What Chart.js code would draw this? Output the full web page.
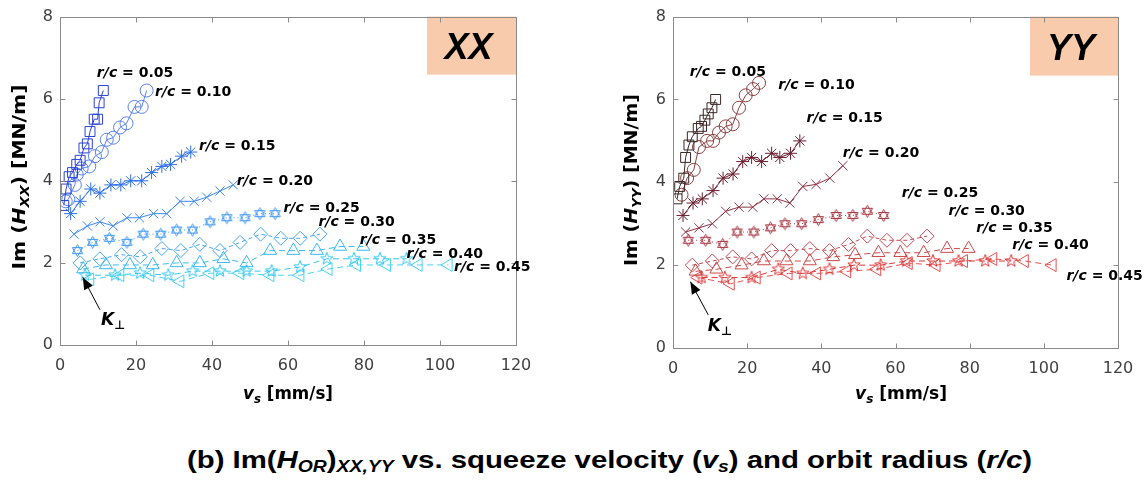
<!DOCTYPE html>
<html>
<head>
<meta charset="utf-8">
<script src="https://cdn.jsdelivr.net/npm/chart.js@4/dist/chart.umd.min.js"></script>
<style>
  html, body { margin: 0; padding: 0; background: #fff; }
  #page { position: relative; width: 1146px; height: 480px; overflow: hidden; }
  .panel { position: absolute; top: 0; }
  #title {
    position: absolute; left: 187px; top: 448px; white-space: nowrap;
    font: bold 24px "Liberation Sans Narrow", "Liberation Sans", Arial, sans-serif;
    line-height: 24px; color: #000; transform-origin: 0 0;
  }
  #title sub { font-size: 0.66em; vertical-align: -0.25em; line-height: 0; }
</style>
</head>
<body>
<div id="page">
  <div class="panel" style="left:0"><canvas id="chartXX" width="560" height="430"></canvas></div>
  <div class="panel" style="left:600px"><canvas id="chartYY" width="546" height="430"></canvas></div>
  <div id="title">(b) Im(<i>H<sub>OR</sub></i>)<sub><i>XX,YY</i></sub> vs. squeeze velocity (<i>v<sub>s</sub></i>) and orbit radius (<i>r/c</i>)</div>
</div>
<script>
// ---- data: [v_s (mm/s), Im(H) (MN/m)] ----
const RC = ['0.05', '0.10', '0.15', '0.20', '0.25', '0.30', '0.35', '0.40', '0.45'];
const X_TICKS = [0, 20, 40, 60, 80, 100, 120];
const Y_TICKS = [0, 2, 4, 6, 8];

const xx05 = [[1.0,3.4],[1.6,3.8],[2.4,4.1],[3.3,4.2],[4.4,4.4],[5.3,4.5],[6.3,4.8],[7.2,4.9],[7.9,5.2],[9.0,5.5],[9.9,5.5],[10.3,5.9],[11.4,6.2]];
const xx10 = [[1.5,3.5],[2.2,3.55],[3.9,3.9],[4.4,4.15],[5.7,4.3],[7.7,4.35],[9.2,4.6],[11.0,4.7],[12.3,5.0],[14.0,5.05],[15.8,5.3],[17.5,5.4],[19.6,5.8],[21.5,5.8],[22.8,6.2]];
const xx15 = [[2.8,3.2],[5.3,3.5],[8.1,3.8],[10.5,3.7],[13.4,3.9],[16.0,3.9],[18.6,4.0],[21.5,4.0],[24.1,4.2],[26.8,4.35],[29.1,4.4],[32.0,4.6],[34.4,4.7]];
const xx20 = [[3.7,2.7],[7.2,2.9],[10.5,3.0],[14.0,2.9],[17.6,3.1],[20.9,3.1],[24.6,3.2],[28.1,3.2],[31.6,3.5],[35.3,3.5],[38.6,3.6],[42.1,3.75],[45.6,3.9]];
const xx25 = [[4.6,2.3],[8.6,2.5],[13.0,2.6],[17.6,2.5],[21.9,2.7],[26.5,2.7],[30.7,2.8],[34.9,2.8],[39.5,3.0],[43.9,3.1],[48.7,3.1],[52.6,3.2],[56.6,3.2]];
const xx30 = [[5.3,2.0],[10.5,2.1],[16.2,2.2],[21.1,2.15],[26.8,2.35],[31.8,2.3],[36.8,2.45],[42.1,2.3],[47.4,2.5],[52.8,2.7],[58.1,2.6],[63.2,2.6],[68.4,2.7]];
const xx35 = [[6.1,1.85],[12.1,1.95],[18.4,1.95],[24.4,1.95],[30.7,2.0],[36.8,2.0],[43.0,2.1],[49.1,2.0],[55.3,2.3],[61.4,2.3],[67.6,2.3],[73.7,2.4],[79.8,2.4]];
const xx40 = [[6.6,1.7],[14.5,1.7],[21.1,1.75],[28.5,1.7],[34.9,1.8],[42.1,1.8],[49.1,1.8],[55.7,1.8],[63.2,1.9],[70.2,2.1],[77.4,2.1],[84.2,2.1],[91.2,2.1]];
const xx45 = [[7.9,1.6],[15.8,1.7],[23.7,1.7],[31.6,1.55],[39.5,1.75],[47.4,1.75],[55.3,1.7],[63.2,1.7],[70.6,1.85],[78.1,1.95],[86.0,1.95],[94.3,1.95],[102.2,1.95]];

const yy05 = [[1.1,3.6],[1.8,3.9],[2.9,4.1],[3.4,4.6],[4.3,4.9],[5.2,5.1],[6.8,5.3],[7.7,5.35],[8.6,5.5],[9.5,5.65],[10.5,5.8],[11.5,6.0]];
const yy10 = [[2.3,3.7],[3.8,4.1],[5.6,4.3],[7.0,4.85],[9.2,5.0],[10.8,5.0],[12.4,5.2],[14.2,5.35],[16.1,5.4],[17.8,5.8],[19.6,6.1],[21.6,6.25],[23.2,6.4]];
const yy15 = [[2.7,3.2],[5.4,3.5],[7.9,3.6],[10.8,3.8],[13.5,4.1],[16.2,4.2],[18.8,4.5],[21.2,4.6],[23.9,4.5],[26.6,4.7],[28.8,4.6],[31.7,4.7],[34.2,5.0]];
const yy20 = [[3.4,2.8],[7.0,2.9],[10.6,3.0],[14.2,3.3],[17.8,3.4],[21.5,3.4],[24.5,3.6],[28.1,3.6],[31.5,3.5],[35.0,3.9],[38.6,3.95],[42.3,4.1],[45.8,4.4]];
const yy25 = [[4.1,2.6],[8.8,2.6],[13.4,2.5],[17.3,2.8],[21.8,2.8],[26.3,2.9],[30.2,3.0],[34.7,3.0],[39.2,3.1],[44.0,3.2],[48.5,3.2],[52.4,3.3],[56.8,3.2]];
const yy30 = [[5.2,2.0],[10.6,2.1],[16.1,2.2],[21.2,2.15],[26.6,2.35],[31.7,2.35],[36.9,2.4],[42.2,2.35],[47.3,2.5],[52.4,2.7],[57.7,2.6],[63.1,2.6],[68.5,2.7]];
const yy35 = [[6.1,1.85],[11.7,1.9],[18.5,2.0],[24.5,2.1],[30.6,2.1],[36.9,2.1],[43.2,2.2],[49.1,2.25],[55.4,2.3],[61.3,2.3],[67.6,2.3],[73.9,2.4],[79.7,2.4]];
const yy40 = [[7.7,1.7],[14.0,1.7],[21.2,1.7],[28.4,1.9],[35.0,1.8],[42.2,1.9],[48.8,2.0],[56.0,2.0],[62.9,2.1],[70.1,2.1],[77.0,2.1],[84.2,2.1],[91.2,2.1]];
const yy45 = [[6.8,1.7],[15.5,1.55],[22.5,1.7],[31.1,1.8],[38.8,1.8],[46.9,1.85],[55.0,1.9],[63.5,2.05],[71.0,2.0],[78.4,2.1],[86.3,2.15],[94.8,2.1],[102.3,2.0]];

// ---- styling / layout ----
const XX_COLORS = ['#2b42d4', '#5a82ec', '#2d70ea', '#3d88f0', '#3f97f2', '#48a6f0', '#38b9f0', '#30c6ee', '#48d3f5'];
const YY_COLORS = ['#3b2626', '#8a4040', '#6b1f30', '#8e3444', '#a83a45', '#c24a52', '#cc4848', '#dd3434', '#e65252'];

// label anchors (left edge, baseline) in data units
const XX_LABEL_AT = [[9.7,6.53],[25.0,6.07],[36.6,4.75],[46.5,3.9],[58.8,3.24],[68.0,2.89],[78.9,2.45],[91.2,2.11],[103.7,1.81]];
const YY_LABEL_AT = [[4.5,6.56],[28.4,6.26],[36.0,5.46],[45.8,4.6],[61.7,3.64],[74.3,3.2],[81.8,2.8],[91.5,2.4],[106.1,1.64]];

function markerCanvas(kind, color, r) {
  const s = Math.ceil(r * 2 + 3);
  const c = document.createElement('canvas');
  c.width = s; c.height = s;
  const g = c.getContext('2d');
  const cx = s / 2, cy = s / 2;
  g.strokeStyle = color;
  g.lineWidth = 1;
  const poly = (angles, radii) => {
    g.beginPath();
    angles.forEach((a, i) => {
      const rr = radii ? radii[i] : r;
      const px = cx + rr * Math.cos(a * Math.PI / 180);
      const py = cy + rr * Math.sin(a * Math.PI / 180);
      i ? g.lineTo(px, py) : g.moveTo(px, py);
    });
    g.closePath();
    g.stroke();
  };
  if (kind === 'hexagram') {
    poly([-90, 30, 150]);
    poly([90, 210, 330]);
  } else {
    const a = [], rr = [];
    for (let i = 0; i < 10; i++) { a.push(-90 + i * 36); rr.push(i % 2 ? r * 0.42 : r); }
    poly(a, rr);
  }
  return c;
}

function seriesStyle(i, color) {
  const base = [
    { pointStyle: 'rect', pointRadius: 7 },
    { pointStyle: 'circle', pointRadius: 6.5 },
    { pointStyle: 'star', pointRadius: 6.5 },
    { pointStyle: 'crossRot', pointRadius: 6.5 },
    { pointStyle: markerCanvas('hexagram', color, 6), pointRadius: 6 },
    { pointStyle: 'rectRot', pointRadius: 7 },
    { pointStyle: 'triangle', pointRadius: 7.5 },
    { pointStyle: markerCanvas('star5', color, 6.5), pointRadius: 6 },
    { pointStyle: 'triangle', pointRadius: 7.5, pointRotation: -90 },
  ][i];
  const dash = i < 4 ? [] : i === 4 ? [1, 3] : i === 5 ? [4, 3] : [6, 4];
  return Object.assign({ borderDash: dash }, base);
}

function drawRich(ctx, parts, x, y) {
  let cx = x;
  parts.forEach(p => {
    ctx.font = p.f;
    ctx.fillText(p.t, cx, y + (p.dy || 0));
    cx += ctx.measureText(p.t).width;
  });
  return cx - x;
}
function richWidth(ctx, parts) {
  let w = 0;
  parts.forEach(p => { ctx.font = p.f; w += ctx.measureText(p.t).width; });
  return w;
}

const FAM = '"DejaVu Sans"';

const panelDecor = {
  id: 'panelDecor',
  afterDraw(chart, args, o) {
    const { ctx, chartArea: a } = chart;
    const xs = chart.scales.x, ys = chart.scales.y;
    ctx.save();

    // tag box (XX / YY)
    ctx.fillStyle = '#f8cbad';
    ctx.fillRect(a.right - o.tagW, a.top, o.tagW, o.tagH);
    ctx.fillStyle = '#000';
    ctx.font = 'italic bold 36px "Liberation Sans", Arial, sans-serif';
    ctx.textAlign = 'center';
    ctx.textBaseline = 'alphabetic';
    ctx.fillText(o.tag, a.right - o.tagW / 2 - 3, a.top + o.tagH - 16);
    ctx.textAlign = 'left';

    // box frame + inward ticks
    ctx.strokeStyle = '#8a8a8a';
    ctx.lineWidth = 1;
    const L = Math.round(a.left) + 0.5, R = Math.round(a.right) + 0.5;
    const T = Math.round(a.top) + 0.5, B = Math.round(a.bottom) + 0.5;
    ctx.strokeRect(L, T, R - L, B - T);
    ctx.beginPath();
    X_TICKS.forEach(v => {
      const px = Math.round(xs.getPixelForValue(v)) + 0.5;
      ctx.moveTo(px, B); ctx.lineTo(px, B - 5);
      ctx.moveTo(px, T); ctx.lineTo(px, T + 5);
    });
    Y_TICKS.forEach(v => {
      const py = Math.round(ys.getPixelForValue(v)) + 0.5;
      ctx.moveTo(L, py); ctx.lineTo(L + 5, py);
      ctx.moveTo(R, py); ctx.lineTo(R - 5, py);
    });
    ctx.stroke();

    // r/c labels
    ctx.fillStyle = '#000';
    RC.forEach((rc, i) => {
      const p = o.labelAt[i];
      drawRich(ctx, [
        { t: 'r/c', f: 'italic bold 14px ' + FAM },
        { t: ' = ' + rc, f: 'bold 14px ' + FAM },
      ], xs.getPixelForValue(p[0]), ys.getPixelForValue(p[1]));
    });

    // K_perp arrow
    const tipX = xs.getPixelForValue(o.kTip[0]), tipY = ys.getPixelForValue(o.kTip[1]);
    const tX = xs.getPixelForValue(o.kTail[0]), tY = ys.getPixelForValue(o.kTail[1]);
    const ang = Math.atan2(tipY - tY, tipX - tX);
    ctx.strokeStyle = '#000';
    ctx.beginPath(); ctx.moveTo(tX, tY); ctx.lineTo(tipX, tipY); ctx.stroke();
    ctx.beginPath();
    ctx.moveTo(tipX, tipY);
    ctx.lineTo(tipX - 13 * Math.cos(ang - 0.38), tipY - 13 * Math.sin(ang - 0.38));
    ctx.lineTo(tipX - 13 * Math.cos(ang + 0.38), tipY - 13 * Math.sin(ang + 0.38));
    ctx.closePath(); ctx.fill();
    drawRich(ctx, [
      { t: 'K', f: 'italic bold 17px ' + FAM },
      { t: '\u22A5', f: 'bold 12px ' + FAM, dy: 4 },
    ], xs.getPixelForValue(o.kText[0]), ys.getPixelForValue(o.kText[1]));

    // x-axis title
    const xParts = [
      { t: 'v', f: 'italic bold 17px ' + FAM },
      { t: 's', f: 'italic bold 12px ' + FAM, dy: 4 },
      { t: ' [mm/s]', f: 'bold 17px ' + FAM },
    ];
    let w = richWidth(ctx, xParts);
    ctx.save();
    ctx.translate(o.xTitle[0] - o.xTitle[2] / 2, o.xTitle[1]);
    ctx.scale(o.xTitle[2] / w, 1);
    drawRich(ctx, xParts, 0, 0);
    ctx.restore();

    // y-axis title (rotated)
    const yParts = [
      { t: 'Im (', f: 'bold 17px ' + FAM },
      { t: 'H', f: 'italic bold 17px ' + FAM },
      { t: o.tag, f: 'italic bold 12px ' + FAM, dy: 4 },
      { t: ') [MN/m]', f: 'bold 17px ' + FAM },
    ];
    w = richWidth(ctx, yParts);
    ctx.save();
    ctx.translate(o.yTitle[0], o.yTitle[1]);
    ctx.rotate(-Math.PI / 2);
    ctx.scale(o.yTitle[2] / w, 1);
    drawRich(ctx, yParts, -w / 2, 0);
    ctx.restore();

    ctx.restore();
  }
};

function buildPanel(canvasId, series, colors, geo, decor) {
  const datasets = series.map((pts, i) => Object.assign({
    label: 'r/c = ' + RC[i],
    data: pts.map(([x, y]) => ({ x, y })),
    showLine: true,
    borderColor: colors[i],
    borderWidth: 1,
    pointBorderColor: colors[i],
    pointBackgroundColor: 'rgba(0,0,0,0)',
    pointBorderWidth: 1,
    pointHoverRadius: 0,
  }, seriesStyle(i, colors[i])));

  const tickFont = { family: FAM, size: 16 };
  return new Chart(document.getElementById(canvasId), {
    type: 'scatter',
    data: { datasets },
    options: {
      responsive: false,
      animation: false,
      events: [],
      layout: { padding: { left: 0, right: geo.padRight, top: geo.padTop, bottom: 0 } },
      plugins: { legend: { display: false }, tooltip: { enabled: false }, panelDecor: decor },
      scales: {
        x: {
          type: 'linear', min: 0, max: 120,
          grid: { display: false, drawTicks: false }, border: { display: false },
          ticks: { font: tickFont, color: '#404040', padding: 11, maxRotation: 0 },
          afterBuildTicks: s => { s.ticks = X_TICKS.map(v => ({ value: v })); },
          afterFit: s => { s.height = geo.xHeight; },
        },
        y: {
          type: 'linear', min: 0, max: 8,
          grid: { display: false, drawTicks: false }, border: { display: false },
          ticks: { font: tickFont, color: '#404040', padding: 7 },
          afterBuildTicks: s => { s.ticks = Y_TICKS.map(v => ({ value: v })); },
          afterFit: s => { s.width = geo.yWidth; },
        },
      },
    },
    plugins: [panelDecor],
  });
}

document.addEventListener('DOMContentLoaded', function () {
  if (typeof Chart === 'undefined') { console.error('Chart.js is not loaded.'); return; }

  buildPanel('chartXX',
    [xx05, xx10, xx15, xx20, xx25, xx30, xx35, xx40, xx45], XX_COLORS,
    { padRight: 44, padTop: 13, xHeight: 85, yWidth: 60 },
    { tag: 'XX', tagW: 89, tagH: 58, labelAt: XX_LABEL_AT,
      kTip: [6.0, 1.65], kTail: [10.5, 0.86], kText: [10.8, 0.48],
      xTitle: [288, 399, 90], yTitle: [25, 177, 185] });

  buildPanel('chartYY',
    [yy05, yy10, yy15, yy20, yy25, yy30, yy35, yy40, yy45], YY_COLORS,
    { padRight: 28, padTop: 15, xHeight: 82, yWidth: 73 },
    { tag: 'YY', tagW: 88, tagH: 59, labelAt: YY_LABEL_AT,
      kTip: [4.7, 1.6], kTail: [9.5, 0.8], kText: [9.4, 0.4],
      xTitle: [301, 399, 92], yTitle: [37, 180, 172] });

  // squeeze the caption into the width it has in the figure
  const title = document.getElementById('title');
  const tw = title.getBoundingClientRect().width;
  title.style.transform = 'scaleX(' + (845 / tw) + ')';
});
</script>
</body>
</html>
